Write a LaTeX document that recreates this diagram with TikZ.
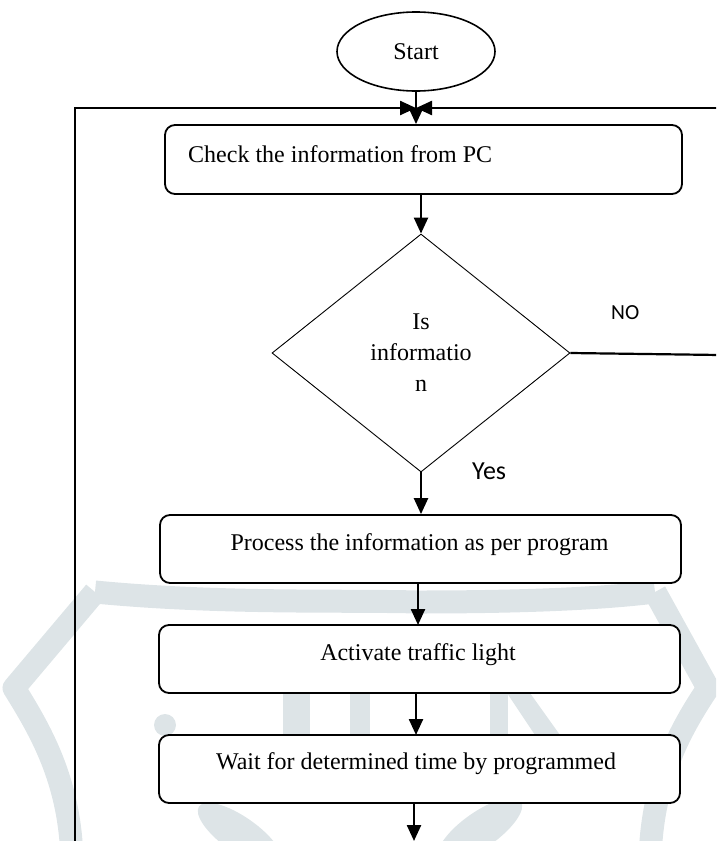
\documentclass[tikz,border=0pt]{standalone}
\usepackage{fontspec}
\setmainfont{Liberation Serif}
\newfontfamily\labelfont{Carlito}
\usetikzlibrary{arrows.meta,shapes.geometric,calc}
\definecolor{wm}{RGB}{221,228,231}
\begin{document}
\begin{tikzpicture}[x=1pt,y=-1pt,
  every node/.style={inner sep=0pt},
  box/.style={draw, rectangle, line width=1.8pt, rounded corners=10pt, fill=white},
  txt/.style={font=\fontsize{24}{31}\selectfont},
  arr/.style={line width=2.4pt, -{Triangle[width=14pt,length=16pt]}},
  link/.style={line width=2.2pt},
  wmband/.style={draw=wm, line width=23pt, line join=round},
  wmfill/.style={fill=wm, draw=none}
]
\useasboundingbox (0,0) rectangle (716,841);
\clip (0,0) rectangle (716,841);

% faint watermark in the background
\draw[wmband] (95,592) -- (14,688) .. controls (40,730) and (70,780) .. (72,860);
\draw[wmband] (655,592) -- (708,688) .. controls (680,730) and (652,780) .. (650,860);
\draw[wmband] (95,592) .. controls (220,604) and (340,600) .. (418,602)
  .. controls (500,602) and (590,600) .. (655,592);
\fill[wmfill] (165,725) circle (11);
\fill[wmfill] (283,693) rectangle (310,735);
\fill[wmfill] (350,693) rectangle (370,735);
\fill[wmfill] (490,693) rectangle (508,735);
\fill[wmfill] (507,693) -- (530,693) -- (560,735) -- (535,735) -- cycle;
\fill[wmfill, rotate around={-35:(240,835)}] (240,835) ellipse (50 and 18);
\fill[wmfill, rotate around={35:(480,830)}] (480,830) ellipse (50 and 18);

% nodes
\node[ellipse, draw, line width=1.6pt, minimum width=158pt, minimum height=79pt, txt] (s) at (416,51.5) {Start};
\node[box, minimum width=517pt, minimum height=69pt] (c) at (423.5,159.5) {};
\node[txt, anchor=base west] (ct) at (188,162) {Check the information from PC};
\node[diamond, draw, line width=0.9pt, minimum width=298pt, minimum height=238pt, txt, align=center] (d) at (421,353) {Is\\informatio\\n};
\node[box, minimum width=521pt, minimum height=68pt] (p) at (420.5,549) {};
\node[txt, anchor=base] (pt) at (419.5,550) {Process the information as per program};
\node[box, minimum width=521pt, minimum height=68pt] (a) at (419.5,659) {};
\node[txt, anchor=base] (at) at (418,660) {Activate traffic light};
\node[box, minimum width=521pt, minimum height=68pt] (w) at (419.5,769) {};
\node[txt, anchor=base] (wt) at (416,769) {Wait for determined time by programmed};
\node[anchor=base west, font=\labelfont\fontsize{21.5}{24}\selectfont] (no) at (611,319) {NO};
\node[anchor=base west, font=\labelfont\fontsize{26}{30}\selectfont] (yes) at (472,479) {Yes};

% loop coordinates
\coordinate (m) at (416,108);
\coordinate (lt) at (75,108);
\coordinate (lb) at (75,845);
\coordinate (rt) at (720,108);
\coordinate (rn) at (720,355);
\coordinate (wb) at (414,841);

% connectors
\draw[link] (lb) -- (lt) -- ($(m)+(-2,0)$);
\draw[arr] (lt) -- (m);
\draw[arr] (rt) -- (m);
\draw[arr] (s.south) -- (s.south |- c.north);
\draw[link] (d.east) -- (rn);
\draw[arr] (d.north |- c.south) -- (d.north);
\draw[arr] (d.south) -- (d.south |- p.north);
\draw[arr] (418,583) -- (418,625);
\draw[arr] (416,693) -- (416,735);
\draw[arr] (wb |- w.south) -- (wb);
\end{tikzpicture}
\end{document}
